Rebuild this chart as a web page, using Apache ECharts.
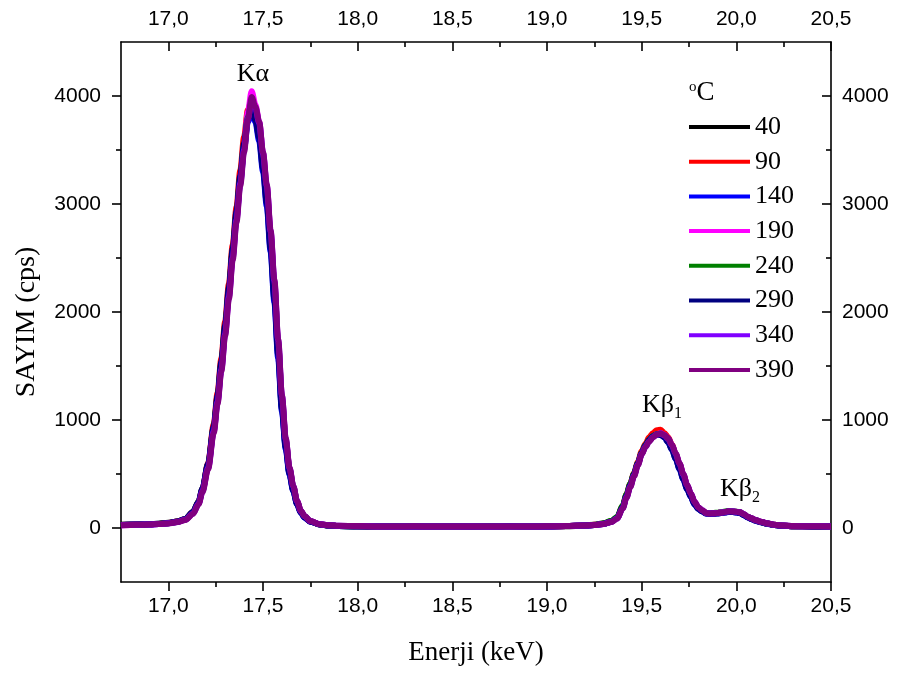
<!DOCTYPE html>
<html><head><meta charset="utf-8">
<script src="https://cdn.jsdelivr.net/npm/echarts@6/dist/echarts.min.js"></script>
<style>html,body{margin:0;padding:0;background:#fff}#c{width:908px;height:677px}</style>
</head><body><div id="c"></div>
<script>
// Energy grid (keV)
const energy = [
16.75,16.80,16.85,16.90,16.95,17.00,17.05,17.09,17.13,17.16,
17.18,17.21,17.24,17.26,17.28,17.30,17.32,17.34,17.36,17.38,
17.40,17.42,17.44,17.46,17.48,17.50,17.52,17.54,17.56,17.58,
17.60,17.62,17.64,17.66,17.68,17.70,17.72,17.75,17.80,17.85,
17.90,
18.00,18.10,18.20,18.30,18.40,18.50,18.60,18.70,18.80,18.90,19.00,
19.10,19.20,19.25,19.30,19.34,19.37,19.40,19.42,19.44,19.46,
19.48,19.50,19.52,19.54,19.56,19.58,19.60,19.62,19.64,19.66,
19.68,19.70,19.72,19.74,19.76,19.78,19.80,19.82,19.84,19.86,
19.88,19.90,19.92,19.94,19.96,19.98,20.00,20.02,20.04,20.06,
20.08,20.10,20.13,20.16,20.20,20.25,20.30,20.40,20.50];

const temps = ['40','90','140','190','240','290','340','390'];
const colors = ['#000000','#FF0000','#0000FF','#FF00FF','#008000','#000080','#8000FF','#800080'];

const c40 = [
30,32,33,35,40,48,62,85,150,245, 360,590,930,1210,1520,1850,2200,2560,2900,3230,
3530,3790,3900,3820,3650,3380,3060,2640,2170,1630, 1120,760,510,350,225,145,100,60,32,22, 18,
16,14,15,13,15,14,12,15,14,13,15,
17,21,27,40,60,95,195,300,400,500, 600,690,760,810,850,870,870,850,810,745,
660,570,470,375,295,225,180,155,135,132, 133,136,139,145,150,149,146,140,122,100,
85,70,55,42,28,20,17,15,14];
const c90 = [
28,30,31,34,38,46,60,82,145,240, 360,600,960,1250,1570,1910,2260,2620,2970,3310,
3620,3870,3960,3860,3700,3420,3110,2700,2240,1690, 1180,800,540,375,240,155,105,62,34,24, 19,
17,16,13,15,14,16,13,14,16,15,14,
19,23,30,42,62,98,200,310,410,510, 610,710,780,840,880,905,910,880,840,770,
680,590,490,390,310,235,185,160,140,136, 137,140,143,149,154,152,149,143,124,102,
88,72,56,43,29,21,17,15,14];
const c140 = [
27,29,32,33,37,44,58,80,140,235, 350,575,915,1190,1500,1830,2180,2540,2880,3210,
3510,3760,3870,3760,3580,3300,2980,2560,2090,1570, 1080,730,490,340,220,140,95,58,33,23, 19,
15,17,14,15,12,14,15,13,14,15,14,
18,22,28,39,58,92,190,295,395,495, 595,690,765,815,850,868,865,840,795,725,
640,545,450,360,285,215,175,152,134,131, 132,135,138,144,148,147,144,137,118,98,
82,68,53,40,27,20,16,15,14];
const c190 = [
26,28,31,33,37,43,57,78,135,228, 342,560,900,1175,1480,1810,2160,2520,2870,3220,
3540,3850,4045,3920,3760,3470,3160,2740,2270,1720, 1210,815,550,380,245,158,108,63,34,24, 19,
16,15,14,13,15,14,16,14,13,15,15,
18,22,29,40,57,90,188,290,392,492, 592,690,762,812,848,870,878,862,828,765,
684,594,494,396,316,238,188,163,139,136, 137,140,143,149,154,152,149,144,127,104,
89,74,57,44,29,21,17,16,15];
const c240 = [
28,30,32,34,38,45,59,82,142,236, 352,580,925,1200,1510,1845,2195,2555,2900,3240,
3540,3800,3940,3850,3700,3420,3120,2700,2240,1700, 1190,805,545,380,242,155,106,62,33,23, 19,
15,14,16,14,13,15,14,16,13,14,15,
19,24,31,44,66,102,205,312,410,505, 600,695,768,818,852,870,872,855,820,755,
672,582,484,388,305,232,184,160,140,138, 139,142,146,152,158,155,151,145,126,104,
88,73,56,43,29,21,17,15,14];
const c290 = [
28,31,32,34,39,47,61,84,148,244, 365,595,940,1225,1540,1875,2225,2585,2930,3260,
3560,3790,3880,3780,3610,3330,3010,2590,2120,1600, 1100,745,500,345,222,142,97,59,33,23, 18,
16,14,13,15,14,13,15,14,16,13,15,
18,22,28,40,59,93,192,298,398,498, 598,692,766,815,850,866,862,838,794,726,
642,548,452,362,288,218,176,154,136,133, 134,137,140,146,150,148,145,138,119,99,
84,69,54,41,28,20,16,15,14];
const c340 = [
26,29,31,33,37,43,56,77,133,225, 338,555,895,1165,1465,1795,2140,2500,2850,3190,
3500,3790,3960,3890,3750,3470,3170,2750,2290,1740, 1225,825,555,386,248,158,108,64,35,25, 20,
17,15,14,15,13,14,15,14,13,15,14,
18,22,28,38,56,87,184,285,385,485, 585,684,752,802,842,866,874,858,826,766,
686,596,496,398,318,240,190,165,139,136, 137,140,143,149,156,154,150,145,128,105,
90,75,58,45,30,22,18,16,15];
const c390 = [
25,28,30,32,36,42,55,75,130,220, 330,545,880,1150,1450,1780,2120,2480,2830,3170,
3480,3780,3990,3900,3760,3480,3180,2760,2300,1750, 1230,830,560,390,250,160,110,65,35,25, 20,
18,15,14,16,13,15,14,13,15,14,16,
18,22,28,38,55,85,180,280,380,480, 580,680,750,800,840,865,875,860,830,770,
690,600,500,400,320,240,190,165,138,135, 136,139,142,148,155,153,150,145,128,105,
90,75,58,45,30,22,18,16,15];

const counts = [c40,c90,c140,c190,c240,c290,c340,c390];

const xMajorTicks = [17.0,17.5,18.0,18.5,19.0,19.5,20.0,20.5];
const xMinorTicks = [17.25,17.75,18.25,18.75,19.25,19.75,20.25];
const yMajorTicks = [0,1000,2000,3000,4000];
const yMinorTicks = [500,1500,2500,3500];

const X_MIN = 16.75, X_MAX = 20.5, Y_MIN = -500, Y_MAX = 4500;

const black = '#000';
const sans = 'Liberation Sans';
const serif = 'Liberation Serif';
const fmtX = v => Number(v).toFixed(1).replace('.', ',');

function xAxisDef(pos, major, extra) {
  return Object.assign({
    type: 'value', position: pos, min: X_MIN, max: X_MAX,
    axisLine: {show: major, onZero: false, lineStyle: {color: black, width: 1.6}},
    axisTick: {show: true, inside: pos === 'top', length: major ? 9 : 5,
      customValues: major ? xMajorTicks : xMinorTicks, lineStyle: {color: black, width: 1.6}},
    axisLabel: {show: major, customValues: xMajorTicks, formatter: fmtX,
      fontFamily: sans, fontSize: 21, color: black, margin: pos === 'top' ? 12 : 14},
    splitLine: {show: false}
  }, extra || {});
}
function yAxisDef(pos, major, extra) {
  return Object.assign({
    type: 'value', position: pos, min: Y_MIN, max: Y_MAX,
    axisLine: {show: major, onZero: false, lineStyle: {color: black, width: 1.6}},
    axisTick: {show: true, inside: pos === 'right', length: major ? 9 : 5,
      customValues: major ? yMajorTicks : yMinorTicks, lineStyle: {color: black, width: 1.6}},
    axisLabel: {show: major, customValues: yMajorTicks, formatter: v => String(v),
      fontFamily: sans, fontSize: 21, color: black, margin: pos === 'right' ? 11 : 20},
    splitLine: {show: false}
  }, extra || {});
}

const series = temps.map((t, k) => ({
  name: t, type: 'line', xAxisIndex: 0, yAxisIndex: 0,
  showSymbol: false, smooth: 0.3, smoothMonotone: 'x',
  lineStyle: {color: colors[k], width: 6},
  itemStyle: {color: colors[k]},
  data: energy.map((e, i) => [e, counts[k][i]])
}));

const chart = echarts.init(document.getElementById('c'), null, {renderer: 'canvas'});
chart.setOption({
  animation: false,
  backgroundColor: '#fff',
  grid: {left: 121, right: 77, top: 42, bottom: 95},
  xAxis: [
    xAxisDef('bottom', true, {name: 'Enerji (keV)', nameLocation: 'middle', nameGap: 57,
      nameTextStyle: {fontFamily: serif, fontSize: 27, color: black}}),
    xAxisDef('top', true),
    xAxisDef('bottom', false),
    xAxisDef('top', false)
  ],
  yAxis: [
    yAxisDef('left', true),
    yAxisDef('right', true),
    yAxisDef('left', false),
    yAxisDef('right', false)
  ],
  legend: {
    orient: 'vertical', left: 684, top: 109, itemWidth: 61, itemHeight: 4,
    itemGap: 8.7, icon: 'rect', selectedMode: false,
    textStyle: {fontFamily: serif, fontSize: 26, color: black, lineHeight: 26},
    data: temps
  },
  graphic: [
    {type: 'text', x: 27, y: 322, rotation: Math.PI / 2, z: 10,
      style: {text: 'SAYIM (cps)', fontFamily: serif, fontSize: 28, fill: black, align: 'center', verticalAlign: 'middle'}},
    {type: 'text', left: 689, top: 79, z: 10,
      style: {text: '{s|o}{n|C}', rich: {
        s: {fontFamily: serif, fontSize: 15, color: black, verticalAlign: 'top', lineHeight: 26},
        n: {fontFamily: serif, fontSize: 27, color: black, lineHeight: 26}}}},
    {type: 'text', x: 253, y: 74, z: 10,
      style: {text: 'Kα', fontFamily: serif, fontSize: 26, fill: black, align: 'center', verticalAlign: 'middle'}},
    {type: 'text', left: 642, top: 392, z: 10,
      style: {text: 'Kβ{sub|1}', fontFamily: serif, fontSize: 26, fill: black, rich: {
        sub: {fontFamily: serif, fontSize: 16, color: black, verticalAlign: 'bottom', lineHeight: 34}}}},
    {type: 'text', left: 720, top: 476, z: 10,
      style: {text: 'Kβ{sub|2}', fontFamily: serif, fontSize: 26, fill: black, rich: {
        sub: {fontFamily: serif, fontSize: 16, color: black, verticalAlign: 'bottom', lineHeight: 34}}}}
  ],
  series: series
});
</script>
</body></html>
